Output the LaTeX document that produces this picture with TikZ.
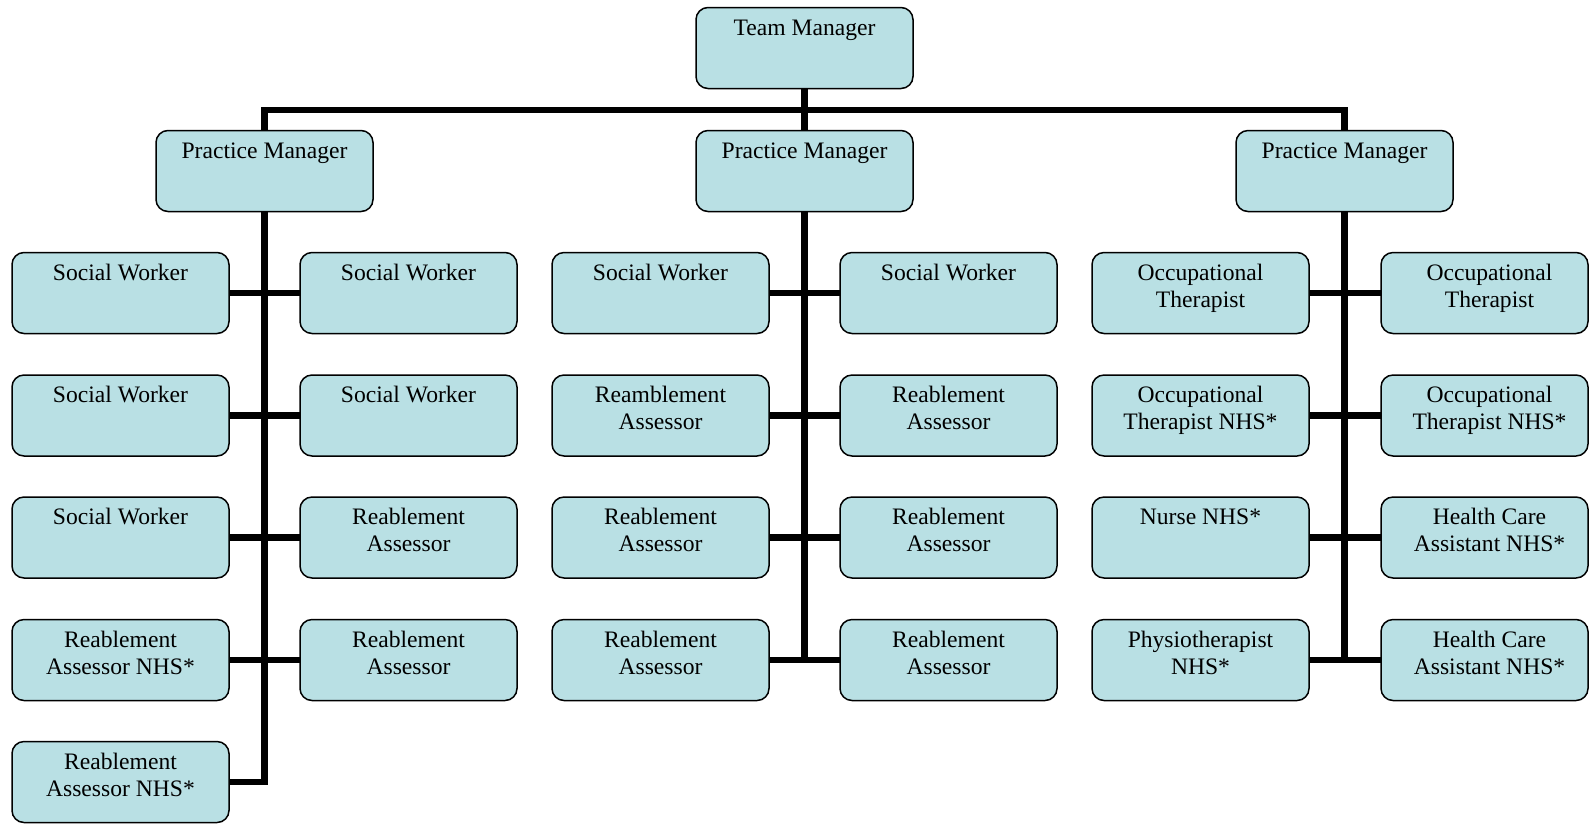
\documentclass[tikz,border=0pt]{standalone}
\usepackage{fontspec}
\setmainfont{Liberation Serif}
\definecolor{boxfill}{RGB}{185,224,228}
\newcommand{\bxt}[3]{\parbox[c][81pt][t]{#1}{\centering\leftskip=#2 plus 1fil\relax\rightskip=0pt plus 1fil\relax\fontsize{23.6}{27}\selectfont\vspace*{9pt}\strut #3}}
\newcommand{\bt}[1]{\bxt{217pt}{0pt}{#1}}
\newcommand{\btr}[1]{\bxt{207pt}{10pt}{#1}}
\tikzset{
  orgbox/.style={draw=black, line width=1.5pt, fill=boxfill, rounded corners=12pt,
    inner sep=0pt, outer sep=0pt, anchor=north west},
  link/.style={draw=black, line width=6.5pt, line join=miter, line cap=butt}
}
\begin{document}
\begin{tikzpicture}[x=1pt,y=-1pt]
\useasboundingbox (0,0) rectangle (1589,823);
% top
\node[orgbox] (TM) at (696,7.5) {\bt{Team Manager}};
\node[orgbox] (PM1) at (156,130.5) {\bt{Practice Manager}};
\node[orgbox] (PM2) at (696,130.5) {\bt{Practice Manager}};
\node[orgbox] (PM3) at (1236,130.5) {\bt{Practice Manager}};
% left group
\node[orgbox] (A1) at (12,252.5) {\bt{Social Worker}};
\node[orgbox] (B1) at (300,252.5) {\bt{Social Worker}};
\node[orgbox] (A2) at (12,375) {\bt{Social Worker}};
\node[orgbox] (B2) at (300,375) {\bt{Social Worker}};
\node[orgbox] (A3) at (12,497) {\bt{Social Worker}};
\node[orgbox] (B3) at (300,497) {\bt{Reablement\\Assessor}};
\node[orgbox] (A4) at (12,619.5) {\bt{Reablement\\Assessor NHS*}};
\node[orgbox] (B4) at (300,619.5) {\bt{Reablement\\Assessor}};
\node[orgbox] (A5) at (12,741.5) {\bt{Reablement\\Assessor NHS*}};
% middle group
\node[orgbox] (C1) at (552,252.5) {\bt{Social Worker}};
\node[orgbox] (D1) at (840,252.5) {\bt{Social Worker}};
\node[orgbox] (C2) at (552,375) {\bt{Reamblement\\Assessor}};
\node[orgbox] (D2) at (840,375) {\bt{Reablement\\Assessor}};
\node[orgbox] (C3) at (552,497) {\bt{Reablement\\Assessor}};
\node[orgbox] (D3) at (840,497) {\bt{Reablement\\Assessor}};
\node[orgbox] (C4) at (552,619.5) {\bt{Reablement\\Assessor}};
\node[orgbox] (D4) at (840,619.5) {\bt{Reablement\\Assessor}};
% right group
\node[orgbox] (E1) at (1092,252.5) {\bt{Occupational\\Therapist}};
\node[orgbox] (F1) at (1381,252.5) {\btr{Occupational\\Therapist}};
\node[orgbox] (E2) at (1092,375) {\bt{Occupational\\Therapist NHS*}};
\node[orgbox] (F2) at (1381,375) {\btr{Occupational\\Therapist NHS*}};
\node[orgbox] (E3) at (1092,497) {\bt{Nurse NHS*}};
\node[orgbox] (F3) at (1381,497) {\btr{Health Care\\Assistant NHS*}};
\node[orgbox] (E4) at (1092,619.5) {\bt{Physiotherapist\\NHS*}};
\node[orgbox] (F4) at (1381,619.5) {\btr{Health Care\\Assistant NHS*}};
% bus
\coordinate (bus) at (TM.south |- 0,110);
\draw[link] (TM.south) -- (PM2.north);
\draw[link] (PM1.north) |- (bus) -| (PM3.north);
% trunks
\draw[link] (PM1.south) |- (A5.east);
\draw[link] (PM2.south) -- (PM2.south |- C4.east);
\draw[link] (PM3.south) -- (PM3.south |- E4.east);
% branches
\foreach \r in {1,2,3,4}{
  \draw[link] (A\r.east) -- (B\r.west);
  \draw[link] (C\r.east) -- (D\r.west);
  \draw[link] (E\r.east) -- (F\r.west);
}
\end{tikzpicture}
\end{document}
